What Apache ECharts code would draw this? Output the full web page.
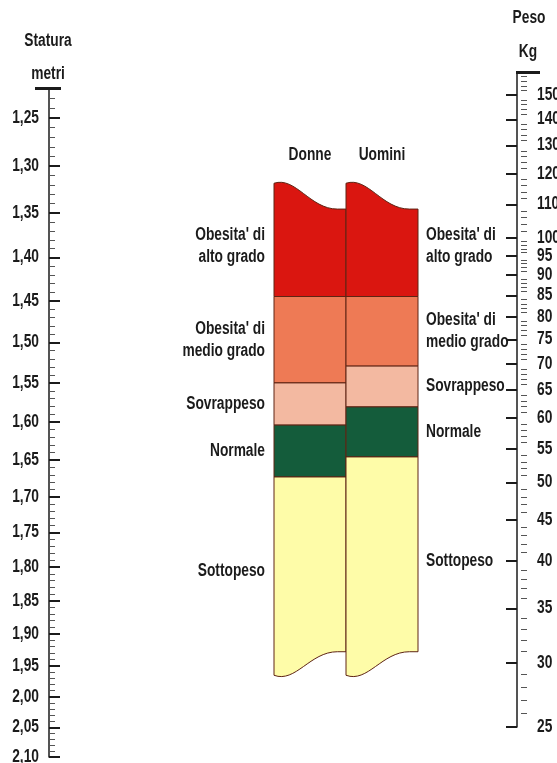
<!DOCTYPE html>
<html><head><meta charset="utf-8">
<script src="https://cdn.jsdelivr.net/npm/echarts@6/dist/echarts.min.js"></script>
<style>html,body{margin:0;padding:0;background:#fff}#c{width:557px;height:763px}</style>
</head><body><div id="c"></div>
<script>
// ---------- data ----------
const heightTicks = [1.25,1.30,1.35,1.40,1.45,1.50,1.55,1.60,1.65,1.70,1.75,1.80,1.85,1.90,1.95,2.00,2.05,2.10];
const heightRange = [1.22, 2.10];
const weightTicks = [25,30,35,40,45,50,55,60,65,70,75,80,85,90,95,100,110,120,130,140,150];
const weightRange = [25, 160];
const columns = ['Donne', 'Uomini'];
const bandNames = ["Obesita' di\nalto grado", "Obesita' di\nmedio grado", 'Sovrappeso', 'Normale', 'Sottopeso'];
// band boundaries read against the Statura (height) scale, left edge of each column
const donneBounds  = [1.317, 1.445, 1.550, 1.604, 1.673, 1.970];
const uominiBounds = [1.317, 1.445, 1.529, 1.5805, 1.646, 1.970];
// right-edge level of the wavy top and bottom of each column (Statura scale)
const waveTopRight    = [1.346, 1.346];
const waveBottomRight = [1.928, 1.928];

// ---------- styles ----------
const bandColors = ['#da1610', '#ee7a55', '#f3b9a1', '#145c3b', '#fefca8'];
const FF = "'Liberation Sans','Arimo',sans-serif";
const SX = 0.86, SY = 1.1;
const INK = '#1b1b1b';
const L = Math.log;
function range(a, b, s){ const r=[]; for(let v=a; v<=b+1e-9; v+=s) r.push(+v.toFixed(3)); return r; }
const heightMinor = range(1.23, 2.09, 0.01).filter(v => !heightTicks.some(t => Math.abs(t-v) < 1e-6));
const weightMinor = range(26, 99, 1).concat(range(102, 158, 2)).filter(v => !weightTicks.includes(v));

function txt(text, align, extra){
  return Object.assign({text, fill:INK, fontFamily:FF, fontWeight:'bold', fontSize:16,
    align, verticalAlign:'middle', x:0, y:0}, extra || {});
}
function yAx(o){
  return Object.assign({type:'value', splitLine:{show:false}, axisLine:{show:false},
    axisTick:{show:false}, axisLabel:{show:false}, axisPointer:{show:false}, silent:true}, o);
}
const hMin = L(heightRange[0]), hMax = L(heightRange[1]);
const wMin = L(weightRange[0]), wMax = L(weightRange[1]);

const yAxes = [
  // left: Statura (0-3)
  yAx({gridIndex:0, position:'left', inverse:true, min:hMin, max:hMax,
    axisLine:{show:true, lineStyle:{color:INK, width:1.5}},
    axisTick:{show:true, inside:true, length:11, lineStyle:{color:INK, width:2}, customValues: heightTicks.map(L)}}),
  yAx({gridIndex:0, position:'left', inverse:true, min:hMin, max:hMax,
    axisTick:{show:true, inside:true, length:6, lineStyle:{color:'#555', width:1}, customValues: heightMinor.map(L)}}),
  yAx({gridIndex:0, position:'left', inverse:true, min:hMin, max:hMax,
    axisTick:{show:true, inside:true, length:12, lineStyle:{color:INK, width:3}, customValues:[hMin]}}),
  yAx({gridIndex:0, position:'left', inverse:true, min:hMin, max:hMax,
    axisTick:{show:true, inside:false, length:14, lineStyle:{color:INK, width:3}, customValues:[hMin]}}),
  // right: Peso (4-7)
  yAx({gridIndex:1, position:'right', min:wMin, max:wMax,
    axisLine:{show:true, lineStyle:{color:INK, width:1.5}},
    axisTick:{show:true, inside:true, length:11, lineStyle:{color:INK, width:2}, customValues: weightTicks.map(L)}}),
  yAx({gridIndex:1, position:'right', min:wMin, max:wMax,
    axisTick:{show:true, inside:true, length:6, lineStyle:{color:'#555', width:1}, customValues: weightMinor.map(L)}}),
  yAx({gridIndex:1, position:'right', min:wMin, max:wMax,
    axisTick:{show:true, inside:true, length:11, lineStyle:{color:INK, width:3}, customValues:[wMax]}}),
  yAx({gridIndex:1, position:'right', min:wMin, max:wMax,
    axisTick:{show:true, inside:false, length:13, lineStyle:{color:INK, width:3}, customValues:[wMax]}}),
  // columns (8)
  yAx({gridIndex:2, inverse:true, min:hMin, max:hMax})
];

const colData = [];
columns.forEach((c, ci) => {
  const b = ci === 0 ? donneBounds : uominiBounds;
  bandNames.forEach((n, bi) => colData.push([ci, L(b[bi]), bi]));
});

function renderColumns(params, api){
  const ci = api.value(0), bi = api.value(2);
  const bounds = ci === 0 ? donneBounds : uominiBounds;
  const w = api.size([1, 0])[0];
  const cx = api.coord([ci, L(bounds[bi])])[0];
  const x0 = cx - w/2, x1 = cx + w/2;
  const yT = api.coord([ci, L(bounds[bi])])[1];
  const yB = api.coord([ci, L(bounds[bi+1])])[1];
  let d, yTm = yT, yBm = yB;
  const last = bandNames.length - 1;
  const kids = [];
  if (bi === 0) {
    const yTR = api.coord([ci, L(waveTopRight[ci])])[1];
    yTm = (yT + yTR) / 2;
    d = `M${x0} ${yT+1} C${x0+0.3*w} ${yT-6} ${x0+0.5*w} ${yTR} ${x0+0.88*w} ${yTR} L${x1} ${yTR} L${x1} ${yB} L${x0} ${yB} Z`;
    kids.push({type:'text', x:cx, y:yT-27, scaleX:SX, scaleY:SY, style:txt(columns[ci], 'center')});
  } else if (bi === last) {
    const yBR = api.coord([ci, L(waveBottomRight[ci])])[1];
    yBm = (yB + yBR) / 2;
    d = `M${x0} ${yT} L${x1} ${yT} L${x1} ${yBR} L${x0+0.88*w} ${yBR} C${x0+0.5*w} ${yBR} ${x0+0.3*w} ${yB+5} ${x0} ${yB-3} Z`;
  } else {
    d = `M${x0} ${yT} L${x1} ${yT} L${x1} ${yB} L${x0} ${yB} Z`;
  }
  const ty = (yTm + yBm) / 2;
  kids.unshift({type:'path', shape:{pathData:d}, style:{fill:bandColors[bi], stroke:'#5e2414', lineWidth:1}});
  kids.push({type:'text', x: ci === 0 ? x0 - 9 : x1 + 8, y: ty, scaleX:SX, scaleY:SY,
    style:txt(bandNames[bi], ci === 0 ? 'right' : 'left', {lineHeight:20})});
  return {type:'group', children:kids};
}

function axisLabelSeries(xIdx, yIdx, values, side, fmt){
  return {
    type:'custom', xAxisIndex:xIdx, yAxisIndex:yIdx, silent:true,
    data: values.map(v => [0, L(v), v]), encode:{x:0, y:1},
    renderItem(params, api){
      const cs = params.coordSys;
      const y = api.coord([0, api.value(1)])[1];
      const x = side === 'left' ? cs.x - 10 : cs.x + cs.width + 10;
      return {type:'text', x, y, scaleX:SX, scaleY:SY, style:txt(fmt(api.value(2)), side === 'left' ? 'right' : 'left')};
    }
  };
}

const option = {
  animation:false,
  backgroundColor:'#fff',
  grid:[
    {left:49, top:88, width:10, height:669, outerBoundsMode:'none'},
    {left:517, top:72.3, width:10, height:654.7, outerBoundsMode:'none'},
    {left:274, top:88, width:144, height:669, outerBoundsMode:'none'}
  ],
  xAxis:[
    {type:'value', gridIndex:0, show:false, min:0, max:1},
    {type:'value', gridIndex:1, show:false, min:0, max:1},
    {type:'category', gridIndex:2, data:columns, show:false}
  ],
  yAxis: yAxes,
  graphic:[
    {type:'text', x:48, y:41, scaleX:SX, scaleY:SY, style:txt('Statura', 'center')},
    {type:'text', x:48, y:74, scaleX:SX, scaleY:SY, style:txt('metri', 'center')},
    {type:'text', x:529, y:18, scaleX:SX, scaleY:SY, style:txt('Peso', 'center')},
    {type:'text', x:528, y:52, scaleX:SX, scaleY:SY, style:txt('Kg', 'center')}
  ],
  series:[
    {type:'custom', xAxisIndex:2, yAxisIndex:8, data:colData, encode:{x:0, y:1}, renderItem:renderColumns, silent:true},
    axisLabelSeries(0, 0, heightTicks, 'left', v => v.toFixed(2).replace('.', ',')),
    axisLabelSeries(1, 4, weightTicks, 'right', v => String(v))
  ]
};
const chart = echarts.init(document.getElementById('c'));
chart.setOption(option);
</script>
</body></html>
